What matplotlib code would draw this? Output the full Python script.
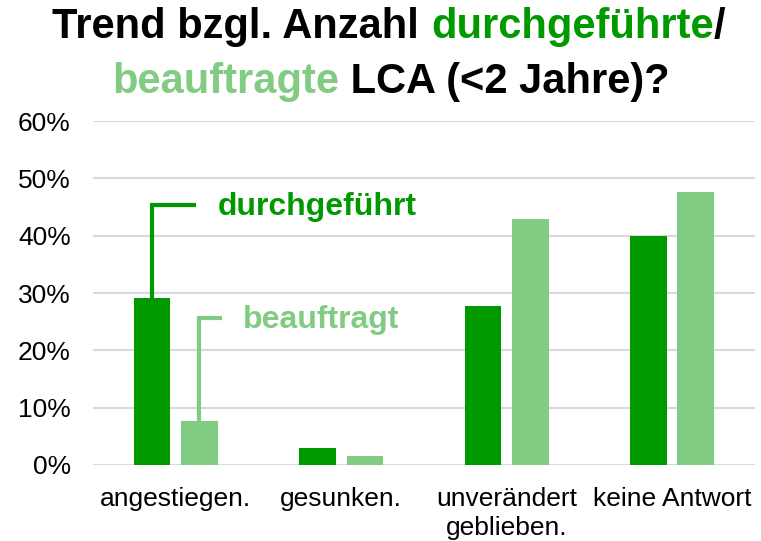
import numpy as np
import matplotlib
matplotlib.use("Agg")
from matplotlib import pyplot as plt

plt.rcParams['font.family'] = ['Liberation Sans', 'DejaVu Sans']

categories = ["angestiegen.", "gesunken.", "unverändert\ngeblieben.", "keine Antwort"]
durchgefuehrt = [0.292, 0.030, 0.277, 0.400]
beauftragt = [0.077, 0.015, 0.430, 0.477]
yticks = [0, 0.1, 0.2, 0.3, 0.4, 0.5, 0.6]

dark = '#009900'
light = '#82cb82'

fig = plt.figure(figsize=(7.61, 5.41), dpi=100)
ax = fig.add_axes([0.1222, 0.1405, 0.8698, 0.6355])

x = np.arange(len(categories))
w = 0.222
off = 0.143
ax.bar(x - off, durchgefuehrt, w, color=dark, zorder=3)
ax.bar(x + off, beauftragt, w, color=light, zorder=3)

ax.set_xlim(-0.5, len(categories) - 0.5)
ax.set_ylim(0, 0.6)
ax.set_yticks(yticks)
ax.set_yticklabels(["%d%%" % round(v * 100) for v in yticks], fontsize=19)
ax.set_xticks(x)
ax.set_xticklabels(categories, fontsize=19, linespacing=1.25)
ax.tick_params(axis='y', length=0, pad=16)
ax.tick_params(axis='x', length=0, pad=16)
ax.grid(axis='y', color='#d9d9d9', linewidth=1.5, zorder=0)
for s in ax.spines.values():
    s.set_visible(False)

# leader lines + labels
ax.plot([x[0] - off, x[0] - off, 0.122], [durchgefuehrt[0], 0.4535, 0.4535],
        color=dark, lw=3, solid_capstyle='butt', solid_joinstyle='miter', zorder=4)
ax.text(0.255, 0.45, "durchgeführt", color=dark, fontsize=23, fontweight='bold',
        va='center', ha='left')
ax.plot([x[0] + off, x[0] + off, 0.279], [beauftragt[0], 0.256, 0.256],
        color=light, lw=3, solid_capstyle='butt', solid_joinstyle='miter', zorder=4)
ax.text(0.406, 0.253, "beauftragt", color=light, fontsize=23, fontweight='bold',
        va='center', ha='left')

# title in coloured pieces
def colored_line(parts, yc, xc, size):
    r = fig.canvas.get_renderer()
    texts = []
    for s, c in parts:
        t = fig.text(0, yc, s, color=c, fontsize=size, fontweight='bold',
                     ha='left', va='baseline')
        texts.append(t)
    widths = [t.get_window_extent(r).width for t in texts]
    total = sum(widths)
    x0 = xc * fig.bbox.width - total / 2
    for t, wd in zip(texts, widths):
        t.set_x(x0 / fig.bbox.width)
        x0 += wd

colored_line([("Trend bzgl. Anzahl ", 'black'), ("durchgeführte", dark), ("/", 'black')],
             0.930, 0.511, 30)
colored_line([("beauftragte", light), (" LCA (<2 Jahre)?", 'black')],
             0.829, 0.514, 30)

fig.savefig("out.png", dpi=100)
